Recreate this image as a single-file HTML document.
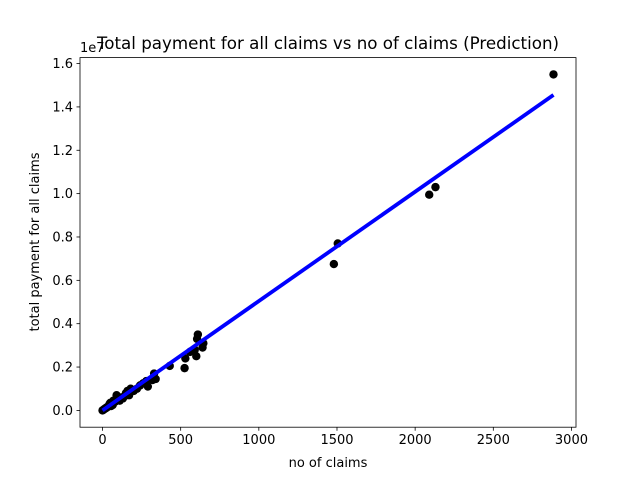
<!DOCTYPE html>
<html><head><meta charset="utf-8"><style>
body{margin:0;background:#fff;}
svg text{font-family:"DejaVu Sans","Liberation Sans",sans-serif;fill:#000;}
</style></head><body>
<svg id="chart" width="640" height="480" xmlns="http://www.w3.org/2000/svg">
<rect width="640" height="480" fill="#fff"/>
<g id="plot"></g>
<rect x="80" y="57.6" width="496" height="369.6" fill="none" stroke="#000" stroke-width="0.8"/>
<g id="axes"></g>
<text x="328" y="49" font-size="16.7" text-anchor="middle">Total payment for all claims vs no of claims  (Prediction)</text>
<text x="328" y="467" font-size="13" text-anchor="middle">no of claims</text>
<text transform="translate(39,242) rotate(-90)" font-size="13" text-anchor="middle">total payment for all claims</text>
<text x="80" y="52" font-size="13">1e7</text>
</svg>
<script>
const xVals=[2885,2130,2090,1505,1480,645,640,610,605,600,590,560,530,525,430,340,330,320,290,280,260,240,180,170,160,140,120,100,90,80,70,60,50,40,30,20,10,5,0,15,25,35,45,55,65,110,130,200,220,150];
const yVals=[1.55,1.03,0.995,0.77,0.675,0.31,0.29,0.35,0.33,0.25,0.28,0.27,0.24,0.195,0.205,0.145,0.17,0.14,0.11,0.135,0.125,0.115,0.1,0.07,0.09,0.065,0.06,0.05,0.07,0.04,0.045,0.03,0.035,0.02,0.015,0.01,0.005,0.002,0,0.008,0.012,0.018,0.03,0.02,0.025,0.045,0.055,0.09,0.1,0.08];
const lineX=[0,2885];
const lineY=[0,1.455];
const xTicks=[0,500,1000,1500,2000,2500,3000];
const yTicks=[0,0.2,0.4,0.6,0.8,1.0,1.2,1.4,1.6];
const X0=80,X1=576,Y0=427.2,Y1=57.6;
const xmin=-144,xmax=3029,ymin=-0.0775,ymax=1.6275;
function sx(v){return X0+(v-xmin)/(xmax-xmin)*(X1-X0);}
function sy(v){return Y0-(v-ymin)/(ymax-ymin)*(Y0-Y1);}
const NS="http://www.w3.org/2000/svg";
const plot=document.getElementById('plot'),axes=document.getElementById('axes');
function mk(tag,attrs,parent){const e=document.createElementNS(NS,tag);for(const k in attrs)e.setAttribute(k,attrs[k]);parent.appendChild(e);return e;}
for(let i=0;i<xVals.length;i++){
 const c=mk('circle',{cx:sx(xVals[i]),cy:sy(yVals[i]),r:4.2,fill:'#000'},plot);
 
 
}
const ln=mk('line',{x1:sx(lineX[0]),y1:sy(lineY[0]),x2:sx(lineX[1]),y2:sy(lineY[1]),stroke:'#0000ff','stroke-width':3.8},plot);


xTicks.forEach(t=>{
 const x=sx(t);
 const tk=mk('line',{x1:x,x2:x,y1:Y0,y2:Y0+3.5,stroke:'#000','stroke-width':0.8},axes);
 
 
 const tx=mk('text',{x:x,y:Y0+17,'font-size':13,'text-anchor':'middle'},axes);
 tx.textContent=t;
 
 
});
yTicks.forEach(t=>{
 const y=sy(t);
 const tk=mk('line',{x1:X0-3.5,x2:X0,y1:y,y2:y,stroke:'#000','stroke-width':0.8},axes);
 
 
 const tx=mk('text',{x:X0-7,y:y+4.5,'font-size':13,'text-anchor':'end'},axes);
 tx.textContent=t.toFixed(1);
 
 
});
</script>
</body></html>
